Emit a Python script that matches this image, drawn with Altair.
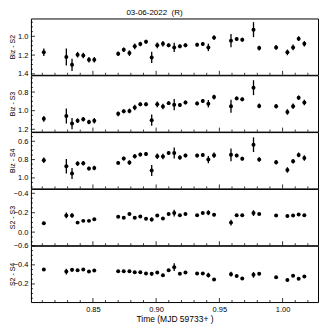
import altair as alt
import pandas as pd

# ---- data ----
t = [0.8112, 0.8290, 0.8335, 0.8379, 0.8424, 0.8469, 0.8511, 0.8700, 0.8744, 0.8789,
     0.8831, 0.8875, 0.8920, 0.8965, 0.9009, 0.9054, 0.9099, 0.9143, 0.9188, 0.9232,
     0.9324, 0.9369, 0.9413, 0.9458, 0.9592, 0.9637, 0.9681, 0.9770, 0.9815, 0.9949,
     1.0038, 1.0083, 1.0127, 1.0172]

biz_s2 = [1.171, 1.221, 1.304, 1.196, 1.204, 1.250, 1.250, 1.186, 1.143, 1.179,
          1.107, 1.082, 1.057, 1.225, 1.096, 1.079, 1.096, 1.118, 1.107, 1.096,
          1.089, 1.082, 1.118, 1.014, 1.046, 1.029, 1.036, 0.929, 1.125, 1.118,
          1.171, 1.118, 1.025, 1.079]
err_s2 = [0.04, 0.09, 0.065, 0.03, 0.03, 0.03, 0.03, 0.025, 0.025, 0.03,
          0.03, 0.025, 0.02, 0.06, 0.03, 0.03, 0.02, 0.05, 0.02, 0.02,
          0.02, 0.02, 0.04, 0.025, 0.07, 0.02, 0.02, 0.08, 0.025, 0.025,
          0.03, 0.03, 0.025, 0.03]

biz_s3 = [1.088, 1.058, 1.139, 1.108, 1.092, 1.122, 1.108, 1.034, 1.007, 1.003,
          0.966, 0.932, 0.932, 1.102, 0.932, 0.956, 0.919, 0.936, 0.939, 0.912,
          0.922, 0.895, 0.925, 0.854, 0.953, 0.868, 0.878, 0.753, 0.949, 0.953,
          1.014, 0.953, 0.861, 0.912]
err_s3 = [0.03, 0.08, 0.06, 0.025, 0.025, 0.025, 0.03, 0.025, 0.02, 0.025,
          0.03, 0.02, 0.02, 0.06, 0.03, 0.03, 0.02, 0.06, 0.02, 0.02,
          0.02, 0.02, 0.04, 0.025, 0.07, 0.02, 0.02, 0.08, 0.025, 0.025,
          0.03, 0.03, 0.025, 0.03]

biz_s4 = [0.807, 0.873, 0.953, 0.844, 0.840, 0.898, 0.891, 0.836, 0.789, 0.833,
          0.764, 0.745, 0.738, 0.920, 0.764, 0.767, 0.727, 0.727, 0.778, 0.756,
          0.756, 0.749, 0.800, 0.753, 0.748, 0.755, 0.790, 0.638, 0.800, 0.829,
          0.913, 0.818, 0.749, 0.782]
err_s4 = [0.03, 0.08, 0.06, 0.025, 0.025, 0.02, 0.025, 0.02, 0.02, 0.025,
          0.025, 0.02, 0.02, 0.06, 0.03, 0.03, 0.02, 0.06, 0.025, 0.02,
          0.02, 0.02, 0.04, 0.03, 0.07, 0.02, 0.02, 0.08, 0.025, 0.025,
          0.03, 0.025, 0.025, 0.03]

s2_s3 = [-0.091, -0.172, -0.172, -0.098, -0.116, -0.116, -0.133, -0.158, -0.147, -0.186,
         -0.147, -0.161, -0.137, -0.130, -0.172, -0.140, -0.186, -0.196, -0.175, -0.186,
         -0.175, -0.196, -0.200, -0.179, -0.098, -0.175, -0.175, -0.196, -0.186, -0.172,
         -0.165, -0.172, -0.182, -0.175]
err_s23 = [0.015, 0.03, 0.025, 0.01, 0.01, 0.01, 0.01, 0.01, 0.01, 0.01,
           0.01, 0.01, 0.01, 0.02, 0.015, 0.01, 0.01, 0.035, 0.01, 0.01,
           0.01, 0.01, 0.025, 0.015, 0.03, 0.01, 0.01, 0.03, 0.01, 0.01,
           0.01, 0.01, 0.01, 0.01]

s2_s4 = [-0.351, -0.330, -0.348, -0.344, -0.351, -0.330, -0.341, -0.334, -0.334, -0.334,
         -0.323, -0.323, -0.309, -0.306, -0.320, -0.292, -0.344, -0.376, -0.306, -0.320,
         -0.309, -0.309, -0.292, -0.247, -0.302, -0.282, -0.257, -0.295, -0.306, -0.271,
         -0.240, -0.285, -0.254, -0.278]
err_s24 = [0.015, 0.03, 0.02, 0.01, 0.01, 0.01, 0.01, 0.01, 0.01, 0.01,
           0.01, 0.01, 0.01, 0.02, 0.015, 0.01, 0.01, 0.04, 0.01, 0.01,
           0.01, 0.01, 0.025, 0.015, 0.025, 0.01, 0.01, 0.03, 0.015, 0.01,
           0.01, 0.01, 0.01, 0.01]

# ---- axes / ticks ----
X_DOMAIN = [0.801, 1.028]
X_MAJOR = [0.85, 0.90, 0.95, 1.00]
X_MINOR = [0.81, 0.82, 0.83, 0.84, 0.86, 0.87, 0.88, 0.89, 0.91, 0.92, 0.93, 0.94,
           0.96, 0.97, 0.98, 0.99, 1.01, 1.02]

panels_spec = [
    ("Biz - S2", biz_s2, err_s2, [0.81, 1.41], [1.0, 1.2, 1.4],
     [0.85, 0.9, 0.95, 1.05, 1.1, 1.15, 1.25, 1.3, 1.35]),
    ("Biz - S3", biz_s3, err_s3, [0.62, 1.225], [0.8, 1.0, 1.2],
     [0.65, 0.7, 0.75, 0.85, 0.9, 0.95, 1.05, 1.1, 1.15]),
    ("Biz - S4", biz_s4, err_s4, [0.50, 1.115], [0.6, 0.8, 1.0],
     [0.55, 0.65, 0.7, 0.75, 0.85, 0.9, 0.95, 1.05, 1.1]),
    ("S2 - S3", s2_s3, err_s23, [-0.445, 0.135], [-0.4, -0.2, 0.0],
     [-0.35, -0.3, -0.25, -0.15, -0.1, -0.05, 0.05, 0.1]),
    ("S2 - S4", s2_s4, err_s24, [-0.60, -0.01], [-0.6, -0.4, -0.2],
     [-0.55, -0.5, -0.45, -0.35, -0.3, -0.25, -0.15, -0.1, -0.05]),
]

FONT = "Liberation Sans Narrow, Liberation Sans, Arial, sans-serif"
W = 288
H = 56.5


def panel(title, vals, errs, ydom, ymaj, ymin, bottom):
    df = pd.DataFrame({"t": t, "v": vals, "e": errs})
    xscale = alt.Scale(domain=X_DOMAIN, nice=False, zero=False)
    yscale = alt.Scale(domain=ydom, nice=False, zero=False, reverse=True)
    if bottom:
        xaxis = alt.Axis(values=X_MAJOR, format=".2f", ticks=False, domain=False,
                         grid=False, labelPadding=3, labelFontSize=7.5,
                         labelOverlap=False,
                         title="Time (MJD 59733+ )", titleFontSize=8.5,
                         titlePadding=2)
    else:
        xaxis = None
    yaxis = alt.Axis(values=ymaj, format=".1f", ticks=False, domain=False, grid=False,
                     title=title, labelPadding=3, titlePadding=2,
                     labelOverlap=False, labelFontSize=7.5,
                     minExtent=13, maxExtent=13)

    X = alt.X("t:Q", scale=xscale, axis=xaxis)

    bars = alt.Chart(df).transform_calculate(
        lo="datum.v - datum.e", hi="datum.v + datum.e"
    ).mark_rule(color="black", strokeWidth=1.3).encode(
        x=X,
        y=alt.Y("lo:Q", scale=yscale, axis=yaxis),
        y2="hi:Q",
    )
    pts = alt.Chart(df).mark_point(filled=True, color="black", size=16,
                                   opacity=1).encode(
        x=X, y=alt.Y("v:Q", scale=yscale, axis=yaxis))

    def xt(vals_, ln):
        return alt.Chart(pd.DataFrame({"t": vals_})).mark_rule(
            color="black", strokeWidth=0.8).encode(
            x=X, y=alt.value(H), y2=alt.value(H - ln))

    def yt(vals_, ln):
        return alt.Chart(pd.DataFrame({"v": vals_})).mark_rule(
            color="black", strokeWidth=0.8).encode(
            y=alt.Y("v:Q", scale=yscale, axis=yaxis),
            x=alt.value(0), x2=alt.value(ln))

    return alt.layer(bars, pts, xt(X_MAJOR, 4), xt(X_MINOR, 2),
                     yt(ymaj, 4), yt(ymin, 2)).properties(width=W, height=H)


charts = [panel(*spec, bottom=(i == len(panels_spec) - 1))
          for i, spec in enumerate(panels_spec)]

chart = alt.vconcat(*charts, spacing=0, bounds="flush").properties(
    title=alt.TitleParams("03-06-2022 \u00a0(R)", fontSize=8, font=FONT,
                          fontWeight="normal", anchor="middle", offset=1, dx=-9),
    padding=0,
).configure_view(
    stroke="black", strokeWidth=1
).configure_axis(
    labelFont=FONT, titleFont=FONT, labelFontSize=8, titleFontSize=7,
    titleFontWeight="normal", labelColor="black", titleColor="black",
    labelOverlap=False
)

chart.save("out.html", embed_options={"renderer": "svg", "actions": False})
